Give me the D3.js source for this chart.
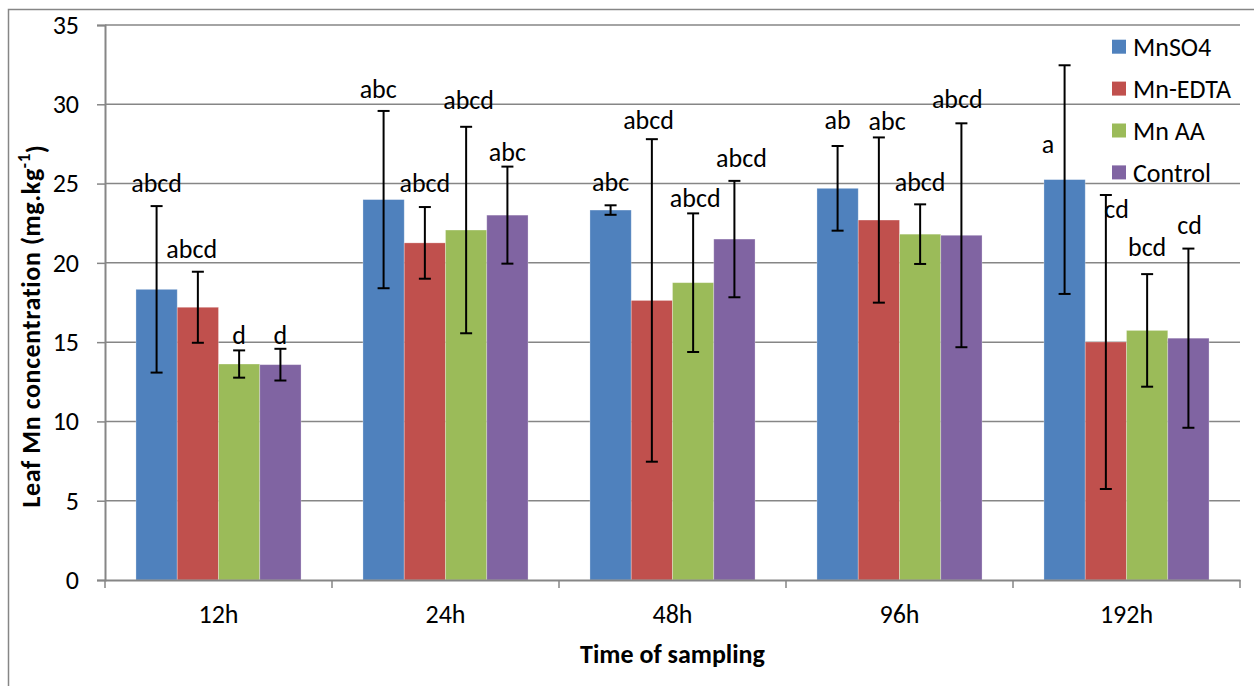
<!DOCTYPE html>
<html><head><meta charset="utf-8">
<script src="https://cdn.jsdelivr.net/npm/d3@7"></script>
<style>
body{margin:0;background:#fff;}
text{font-family:Carlito,Calibri,Lato,sans-serif;fill:#000;}
</style></head>
<body><svg id="c" width="1254" height="686"></svg>
<script>
const categories = ["12h","24h","48h","96h","192h"];
const seriesNames = ["MnSO4","Mn-EDTA","Mn AA","Control"];
const colors = ["#4F81BD","#C0504D","#9BBB59","#8064A2"];
// means per series (rows) across categories
const means = [
  [18.33, 23.99, 23.33, 24.70, 25.25],
  [17.20, 21.26, 17.63, 22.70, 15.01],
  [13.62, 22.07, 18.75, 21.81, 15.74],
  [13.58, 23.01, 21.50, 21.74, 15.25]
];
const errs = [
  [5.25, 5.59, 0.30, 2.67, 7.21],
  [2.24, 2.26, 10.17, 5.21, 9.27],
  [0.86, 6.51, 4.37, 1.88, 3.55],
  [1.00, 3.06, 3.67, 7.06, 5.65]
];
const letters = [
  ["abcd","abc","abc","ab","a"],
  ["abcd","abcd","abcd","abc","cd"],
  ["d","abcd","abcd","abcd","bcd"],
  ["d","abc","abcd","abcd","cd"]
];
// label baseline heights (data units) and horizontal shift (in bar widths)
const letterY = [
  [24.47, 30.38, 24.53, 28.42, 26.95],
  [20.33, 24.49, 28.44, 28.38, 22.81],
  [14.88, 29.68, 23.54, 24.55, 20.43],
  [14.88, 26.44, 26.07, 29.75, 21.80]
];
const letterShift = [
  [0, -0.13, 0, 0, -0.40],
  [-0.15, 0, -0.08, 0.2, 0.26],
  [0, 0.06, 0.05, 0, 0],
  [0, 0, 0.17, -0.1, 0.03]
];
const yTicks = [0,5,10,15,20,25,30,35];

const FS = "26px";
const svg = d3.select("#c");
const L = 105, R = 1240, T = 25, B = 580;
const x = d3.scaleBand().domain(categories).range([L, R]).paddingInner(0).paddingOuter(0);
const y = d3.scaleLinear().domain([0, 35]).range([B, T]);
const bw = x.bandwidth() / 5.5;
const xs = d3.scaleBand().domain(seriesNames).range([0.75*bw, 4.75*bw]);
const gray = "#868686";

// outer border
svg.append("rect").attr("x",8.5).attr("y",9.5).attr("width",1260).attr("height",700)
  .attr("fill","none").attr("stroke",gray).attr("stroke-width",1.5);

// gridlines
svg.append("g").selectAll("line").data(yTicks.filter(d=>d>0)).join("line")
  .attr("x1",L).attr("x2",R).attr("y1",d=>y(d)).attr("y2",d=>y(d))
  .attr("stroke",gray).attr("stroke-width",1.5);

// y axis
const ya = svg.append("g").attr("transform",`translate(${L},0)`)
  .call(d3.axisLeft(y).tickValues(yTicks).tickSize(8).tickPadding(18));
ya.select(".domain").attr("stroke",gray).attr("stroke-width",2);
ya.selectAll(".tick line").attr("stroke",gray).attr("stroke-width",1.5);
ya.selectAll(".tick text").style("font-size",FS).attr("fill","#000");

// bars
const g = svg.append("g");
seriesNames.forEach((s,si)=>{
  categories.forEach((c,ci)=>{
    const bx = x(c) + xs(s);
    g.append("rect").attr("x",bx).attr("y",y(means[si][ci]))
      .attr("width",xs.bandwidth()).attr("height",y(0)-y(means[si][ci]))
      .attr("fill",colors[si]).attr("stroke","rgba(255,255,255,0.35)").attr("stroke-width",0.8);
  });
});

// x axis
const xa = svg.append("g").attr("transform",`translate(0,${B})`)
  .call(d3.axisBottom(x).tickSize(0));
xa.select(".domain").attr("stroke",gray).attr("stroke-width",2);
xa.selectAll(".tick text").style("font-size",FS).attr("fill","#000").attr("y",43).attr("dy",null);
svg.append("g").selectAll("line").data(categories.map(c=>x(c)).concat([R])).join("line")
  .attr("x1",d=>d).attr("x2",d=>d).attr("y1",B).attr("y2",B+8)
  .attr("stroke",gray).attr("stroke-width",1.5);

// error bars and letters
const eg = svg.append("g");
seriesNames.forEach((s,si)=>{
  categories.forEach((c,ci)=>{
    const cx = x(c) + xs(s) + xs.bandwidth()/2;
    const hi = y(means[si][ci]+errs[si][ci]), lo = y(means[si][ci]-errs[si][ci]);
    eg.append("line").attr("x1",cx).attr("x2",cx).attr("y1",hi).attr("y2",lo).attr("stroke","#000").attr("stroke-width",2);
    [hi,lo].forEach(yy=>eg.append("line").attr("x1",cx-6).attr("x2",cx+6).attr("y1",yy).attr("y2",yy).attr("stroke","#000").attr("stroke-width",2));
    eg.append("text").attr("x",cx + letterShift[si][ci]*xs.bandwidth()).attr("y",y(letterY[si][ci]))
      .attr("text-anchor","middle").style("font-size",FS).text(letters[si][ci]);
  });
});

// legend
const lg = svg.append("g");
seriesNames.forEach((s,i)=>{
  const cy = 46.7 + i*41.9;
  lg.append("rect").attr("x",1112).attr("y",cy-7).attr("width",14).attr("height",14).attr("fill",colors[i]);
  lg.append("text").attr("x",1133).attr("y",cy).attr("dy","0.36em").style("font-size",FS).text(s);
});

// axis titles
svg.append("text").attr("x",(L+R)/2).attr("y",663).attr("text-anchor","middle")
  .style("font-size",FS).style("font-weight","bold").text("Time of sampling");
const yt = svg.append("text").attr("transform","translate(40,326) rotate(-90)").attr("text-anchor","middle")
  .style("font-size",FS).style("font-weight","bold").style("letter-spacing","0.6px");
yt.append("tspan").text("Leaf Mn concentration (mg.kg");
yt.append("tspan").attr("dy","-0.6em").style("font-size","17px").text("-1");
yt.append("tspan").attr("dy","0.6em").text(")");
</script></body></html>
